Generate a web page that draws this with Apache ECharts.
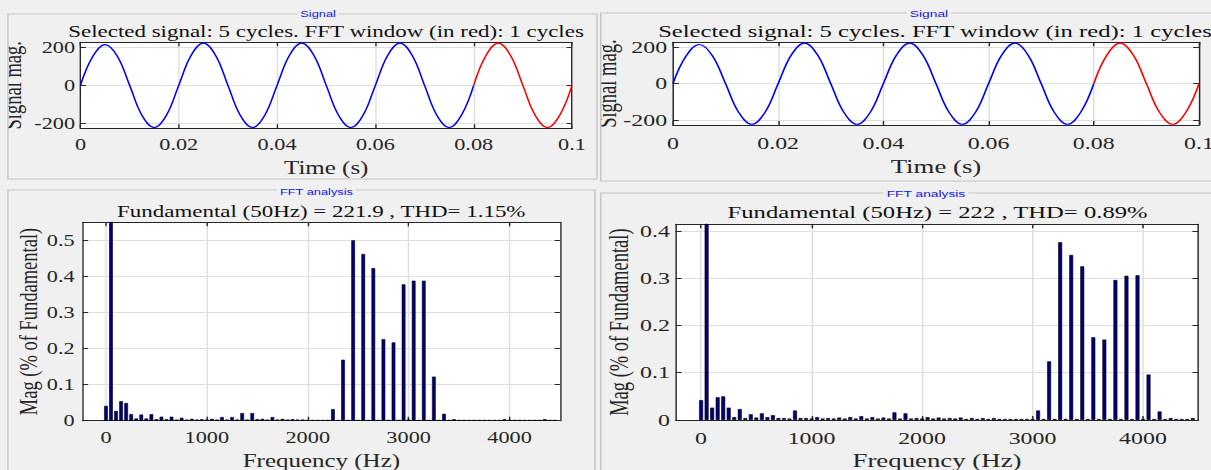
<!DOCTYPE html>
<html>
<head>
<meta charset="utf-8">
<title>FFT analysis</title>
<script src="https://cdn.jsdelivr.net/npm/echarts@6/dist/echarts.min.js"></script>
<style>
  html, body { margin: 0; padding: 0; background: #f0f0f0; overflow: hidden; }
  #page { position: relative; width: 1211px; height: 470px; overflow: hidden; }
  /* the screenshot this copies was stretched sideways, so each half is too */
  .panel { position: absolute; top: 0; height: 470px; transform-origin: 0 0; }
  #left { left: 0; width: 445px; transform: scaleX(1.35); }
  #right { left: 600px; width: 422px; transform: scaleX(1.45); }
</style>
</head>
<body>
<div id="page">
  <div id="left" class="panel"></div>
  <div id="right" class="panel"></div>
</div>
<script>
// ---- data ----

// signal trace, sampled every 1/8 cycle (s)
var sigTime = [0, 0.0025, 0.005, 0.0075, 0.01, 0.0125, 0.015, 0.0175,
  0.02, 0.0225, 0.025, 0.0275, 0.03, 0.0325, 0.035, 0.0375,
  0.04, 0.0425, 0.045, 0.0475, 0.05, 0.0525, 0.055, 0.0575,
  0.06, 0.0625, 0.065, 0.0675, 0.07, 0.0725, 0.075, 0.0775,
  0.08, 0.0825, 0.085, 0.0875, 0.09, 0.0925, 0.095, 0.0975, 0.1];
var sigLeft = [0, 151, 214, 153, 0, -157, -222, -157,
  0, 157, 222, 157, 0, -157, -222, -157,
  0, 157, 222, 157, 0, -157, -222, -157,
  0, 157, 222, 157, 0, -157, -222, -157,
  0, 157, 222, 157, 0, -157, -222, -157, 0];
var sigRight = [0, 151, 214, 153, 0, -157, -222, -157,
  0, 157, 222, 157, 0, -157, -222, -157,
  0, 157, 222, 157, 0, -157, -222, -157,
  0, 157, 222, 157, 0, -157, -222, -157,
  0, 157, 222, 157, 0, -157, -222, -157, 0];
var fftWindowStart = 0.08; // red part = 1 cycle FFT window

// harmonic bins (Hz)
var fftFreq = [0, 50, 100, 150, 200, 250, 300, 350, 400, 450,
  500, 550, 600, 650, 700, 750, 800, 850, 900, 950,
  1000, 1050, 1100, 1150, 1200, 1250, 1300, 1350, 1400, 1450,
  1500, 1550, 1600, 1650, 1700, 1750, 1800, 1850, 1900, 1950,
  2000, 2050, 2100, 2150, 2200, 2250, 2300, 2350, 2400, 2450,
  2500, 2550, 2600, 2650, 2700, 2750, 2800, 2850, 2900, 2950,
  3000, 3050, 3100, 3150, 3200, 3250, 3300, 3350, 3400, 3450,
  3500, 3550, 3600, 3650, 3700, 3750, 3800, 3850, 3900, 3950,
  4000, 4050, 4100, 4150, 4200, 4250, 4300, 4350, 4400, 4450];

// Mag (% of fundamental), THD = 1.15%
var fftLeft = [0.041, 100, 0.027, 0.054, 0.049, 0.018, 0.006, 0.017, 0.006, 0.018,
  0.004, 0.011, 0.004, 0.011, 0.003, 0.008, 0.003, 0.005, 0.003, 0.004,
  0.003, 0.005, 0.003, 0.010, 0.003, 0.010, 0.003, 0.021, 0.003, 0.021,
  0.004, 0.005, 0.003, 0.010, 0.003, 0.005, 0.003, 0.004, 0.003, 0.003,
  0.002, 0.002, 0.002, 0.002, 0.002, 0.032, 0.002, 0.169, 0.002, 0.500,
  0.002, 0.462, 0.002, 0.423, 0.002, 0.226, 0.002, 0.217, 0.002, 0.378,
  0.003, 0.388, 0.002, 0.388, 0.002, 0.122, 0.002, 0.019, 0.002, 0.004,
  0.002, 0.002, 0.002, 0.002, 0.002, 0.002, 0.002, 0.002, 0.002, 0.004,
  0.002, 0.002, 0.002, 0.002, 0.002, 0.002, 0.002, 0.004, 0.002, 0.002];

// Mag (% of fundamental), THD = 0.89%
var fftRight = [0.042, 100, 0.026, 0.048, 0.050, 0.026, 0.006, 0.023, 0.004, 0.012,
  0.005, 0.014, 0.006, 0.010, 0.004, 0.004, 0.003, 0.020, 0.004, 0.004,
  0.003, 0.006, 0.003, 0.004, 0.003, 0.005, 0.003, 0.006, 0.003, 0.008,
  0.003, 0.006, 0.003, 0.005, 0.003, 0.016, 0.003, 0.014, 0.003, 0.004,
  0.003, 0.006, 0.003, 0.005, 0.003, 0.004, 0.003, 0.005, 0.002, 0.004,
  0.002, 0.004, 0.002, 0.004, 0.002, 0.002, 0.002, 0.002, 0.002, 0.002,
  0.002, 0.020, 0.002, 0.124, 0.002, 0.376, 0.002, 0.349, 0.002, 0.325,
  0.002, 0.175, 0.002, 0.170, 0.002, 0.296, 0.002, 0.305, 0.002, 0.306,
  0.002, 0.096, 0.002, 0.018, 0.002, 0.004, 0.002, 0.002, 0.002, 0.004];

// tick labels
var timeTicks = [0, 0.02, 0.04, 0.06, 0.08, 0.1];
var sigTicks = [-200, 0, 200];
var freqTicks = [0, 1000, 2000, 3000, 4000];
var magTicksLeft = [0, 0.1, 0.2, 0.3, 0.4, 0.5];
var magTicksRight = [0, 0.1, 0.2, 0.3, 0.4];

// ---- styles ----
var serif = '"Liberation Serif", "Times New Roman", serif';
var ink = '#262626';
var gridInk = '#dedede';
var frameInk = '#c4c4c4';
var panelBg = '#f0f0f0';

// axis with labels, inside ticks and grid lines (MATLAB look)
function mainAxis(o) {
    return {
        type: 'value',
        gridIndex: o.grid,
        position: o.pos,
        min: o.min,
        max: o.max,
        name: o.name,
        nameLocation: 'middle',
        nameGap: o.nameGap,
        nameMoveOverlap: false,
        nameTextStyle: { fontFamily: serif, fontSize: 18.5, color: ink },
        axisLine: { show: true, onZero: false, lineStyle: { color: ink, width: 1 } },
        axisTick: { show: true, inside: true, length: 4, customValues: o.ticks, lineStyle: { color: ink } },
        axisLabel: {
            show: true, customValues: o.ticks, margin: o.margin,
            fontFamily: serif, fontSize: 16.5, color: ink,
            formatter: function (v) { return String(v); } // plain numbers, no 1,000
        },
        splitLine: { show: true, lineStyle: { color: gridInk, width: 1 } }
    };
}

// opposite side of the box: line + ticks only
function sideAxis(grid, pos, min, max, ticks) {
    return {
        type: 'value',
        gridIndex: grid,
        position: pos,
        min: min,
        max: max,
        axisLine: { show: true, onZero: false, lineStyle: { color: ink, width: 1 } },
        axisTick: { show: true, inside: true, length: 4, customValues: ticks, lineStyle: { color: ink } },
        axisLabel: { show: false },
        splitLine: { show: false }
    };
}

function label(x, y, text, size, color, family) {
    return {
        type: 'text', x: x, y: y, z: 120, silent: true,
        style: {
            text: text, fill: color, fontSize: size, fontFamily: family,
            textAlign: 'center', textVerticalAlign: 'middle',
            backgroundColor: panelBg, padding: [0, 2]
        }
    };
}

function frame(x, y, w, h) {
    return {
        type: 'rect', z: 110, silent: true,
        shape: { x: x, y: y, width: w, height: h },
        style: { fill: 'none', stroke: frameInk, lineWidth: 1 }
    };
}

function panelOption(L, sig, fft, magMax, magTicks, fftTitle) {
    var blue = [], red = [];
    for (var i = 0; i < sigTime.length; i++) {
        if (sigTime[i] <= fftWindowStart) blue.push([sigTime[i], sig[i]]);
        if (sigTime[i] >= fftWindowStart) red.push([sigTime[i], sig[i]]);
    }
    var bars = fftFreq.map(function (f, i) { return [f, fft[i]]; });

    return {
        animation: false,
        backgroundColor: panelBg,
        grid: [
            { left: L.sig.left, top: L.sig.top, width: L.sig.width, height: L.sig.height,
              show: true, backgroundColor: '#ffffff', borderWidth: 0, containLabel: false, outerBoundsMode: 'none' },
            { left: L.fft.left, top: L.fft.top, width: L.fft.width, height: L.fft.height,
              show: true, backgroundColor: '#ffffff', borderWidth: 0, containLabel: false, outerBoundsMode: 'none' }
        ],
        xAxis: [
            mainAxis({ grid: 0, pos: 'bottom', min: 0, max: 0.1, ticks: timeTicks,
                       name: 'Time (s)', nameGap: L.sig.nameGapX, margin: L.sig.marginX }),
            sideAxis(0, 'top', 0, 0.1, timeTicks),
            mainAxis({ grid: 1, pos: 'bottom', min: -230, max: 4500, ticks: freqTicks,
                       name: 'Frequency (Hz)', nameGap: L.fft.nameGapX, margin: L.fft.marginX }),
            sideAxis(1, 'top', -230, 4500, freqTicks)
        ],
        yAxis: [
            mainAxis({ grid: 0, pos: 'left', min: -226, max: 226, ticks: sigTicks,
                       name: 'Signal mag.', nameGap: L.sig.nameGapY, margin: L.sig.marginY }),
            sideAxis(0, 'right', -226, 226, sigTicks),
            mainAxis({ grid: 1, pos: 'left', min: 0, max: magMax, ticks: magTicks,
                       name: 'Mag (% of Fundamental)', nameGap: L.fft.nameGapY, margin: L.fft.marginY }),
            sideAxis(1, 'right', 0, magMax, magTicks)
        ],
        graphic: L.frames.concat([
            label(L.sigLabelX, L.sigLabelY, 'Signal', 9.5, '#1414e6', '"Liberation Sans", Arial, sans-serif'),
            label(L.fftLabelX, L.fftLabelY, 'FFT analysis', 9.5, '#1414e6', '"Liberation Sans", Arial, sans-serif'),
            label(L.sigTitleX, 31, 'Selected signal: 5 cycles. FFT window (in red): 1 cycles', 17, '#111', serif),
            label(L.fftTitleX, L.fftTitleY, fftTitle, 17, '#111', serif)
        ]),
        series: [
            {
                name: 'Signal', type: 'line', xAxisIndex: 0, yAxisIndex: 0,
                data: blue, symbol: 'none', smooth: 0.4,
                lineStyle: { color: '#0000ff', width: 1.2 }
            },
            {
                name: 'FFT window', type: 'line', xAxisIndex: 0, yAxisIndex: 0,
                data: red, symbol: 'none', smooth: 0.4,
                lineStyle: { color: '#ff0000', width: 1.2 }
            },
            {
                name: 'Harmonics', type: 'bar', xAxisIndex: 2, yAxisIndex: 2,
                data: bars, barWidth: 2.8, clip: true,
                itemStyle: { color: '#00007a', borderColor: '#000000', borderWidth: 0.5 }
            }
        ]
    };
}

// Left half (units are before the sideways stretch)
var leftLayout = {
    sig: { left: 59.6, top: 42.3, width: 364.1, height: 86, nameGapX: 30, marginX: 8, nameGapY: 41, marginY: 4 },
    fft: { left: 61.3, top: 222.3, width: 353.5, height: 198.4, nameGapX: 30, marginX: 8, nameGapY: 31, marginY: 6 },
    sigLabelX: 235.6, sigLabelY: 14,
    fftLabelX: 234.4, fftLabelY: 192,
    sigTitleX: 241.5,
    fftTitleX: 238, fftTitleY: 211,
    frames: [
        // hides the part of "Signal mag." that falls outside the panel
        { type: 'rect', z: 105, silent: true, shape: { x: -1, y: 14, width: 6.9, height: 165 }, style: { fill: panelBg } },
        frame(5.9, 14, 436.3, 165),
        frame(5.9, 190, 434.8, 300)
    ]
};

// Right half
var rightLayout = {
    sig: { left: 50.3, top: 42.3, width: 362.8, height: 82.7, nameGapX: 32.5, marginX: 10, nameGapY: 36, marginY: 4 },
    fft: { left: 52.2, top: 224.3, width: 360.4, height: 195.7, nameGapX: 30.75, marginX: 10, nameGapY: 30, marginY: 4 },
    sigLabelX: 226.9, sigLabelY: 14,
    fftLabelX: 224.8, fftLabelY: 194,
    sigTitleX: 231,
    fftTitleX: 232.8, fftTitleY: 212,
    frames: [
        frame(0.5, 13, 500, 168),
        frame(0.5, 193, 500, 300)
    ]
};

var leftChart = echarts.init(document.getElementById('left'), null, { renderer: 'svg' });
leftChart.setOption(panelOption(leftLayout, sigLeft, fftLeft, 0.55, magTicksLeft,
    'Fundamental (50Hz) = 221.9 , THD= 1.15%'));

var rightChart = echarts.init(document.getElementById('right'), null, { renderer: 'svg' });
rightChart.setOption(panelOption(rightLayout, sigRight, fftRight, 0.414, magTicksRight,
    'Fundamental (50Hz) = 222 , THD= 0.89%'));
</script>
</body>
</html>
